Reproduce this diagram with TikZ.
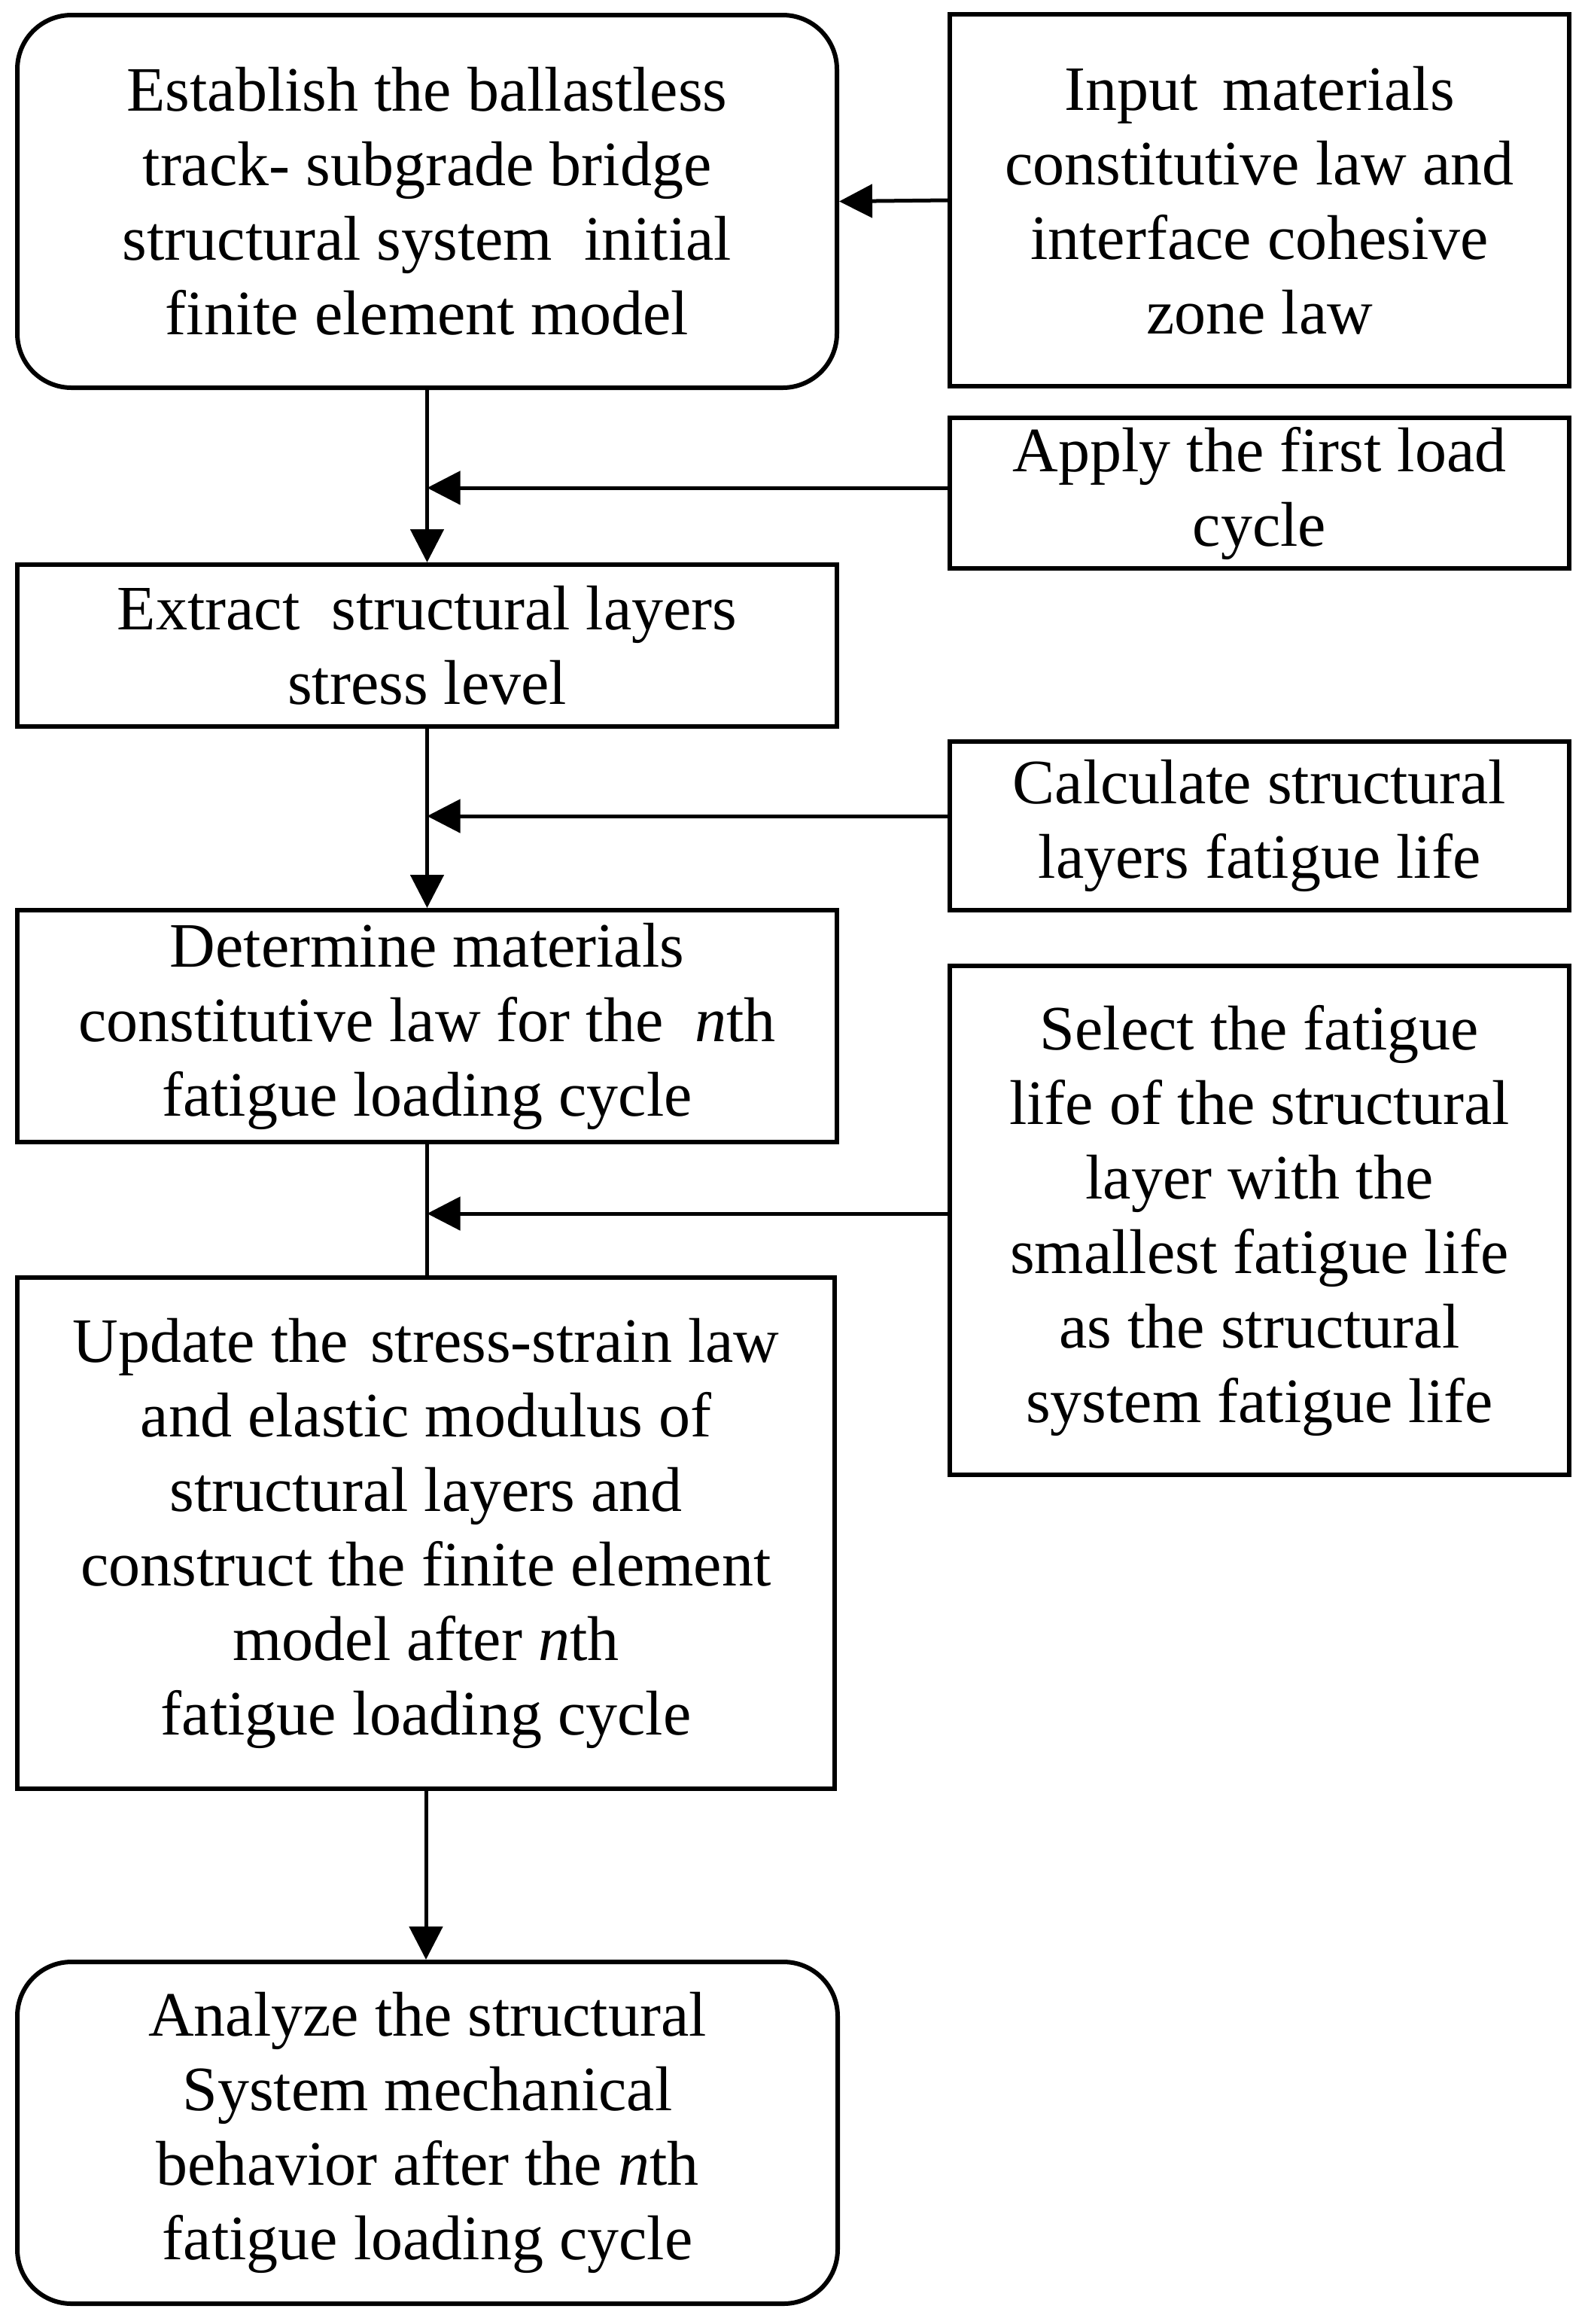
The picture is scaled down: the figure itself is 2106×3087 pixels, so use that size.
\documentclass[tikz,border=0pt]{standalone}
\usepackage{fontspec}
\setmainfont{Liberation Serif}
\usetikzlibrary{arrows.meta}
\begin{document}
\begin{tikzpicture}[x=0.25pt,y=-0.25pt,
  box/.style={draw, line width=1.5pt, align=center, inner sep=0pt,
    font=\fontsize{21}{24.75}\selectfont},
  rbox/.style={box, rounded corners=18pt},
  conn/.style={line width=1.25pt},
  arr/.style={conn, -{Triangle[length=11pt,width=11pt]}}]
\useasboundingbox (0,0) rectangle (2106,3087);
\node[rbox, minimum width=272.25pt, minimum height=123.75pt] (n1) at (567.5,267.5)
  {Establish the ballastless\\track- subgrade bridge\\structural system \ initial\\finite element model};
\node[box, minimum width=205.75pt, minimum height=123.5pt] (n2) at (1673.5,266)
  {Input\hspace{0.4em}materials\\constitutive law and\\interface cohesive\\zone law};
\node[box, minimum width=205.75pt, minimum height=50pt] (n3) at (1673.5,655)
  {Apply the first load\\cycle};
\node[box, minimum width=272.25pt, minimum height=53.75pt] (n4) at (567.5,857.5)
  {Extract \ structural layers\\stress level};
\node[box, minimum width=205.75pt, minimum height=56pt] (n5) at (1673.5,1097)
  {Calculate structural\\layers fatigue life};
\node[box, minimum width=272.25pt, minimum height=77pt] (n6) at (567.5,1363)
  {Determine materials\\constitutive law for the \ \textit{n}th\\fatigue loading cycle};
\node[box, minimum width=205.75pt, minimum height=169pt] (n7) at (1673.5,1621)
  {Select the fatigue\\life of the structural\\layer with the\\smallest fatigue life\\as the structural\\system fatigue life};
\node[box, minimum width=271.5pt, minimum height=169.75pt] (n8) at (566,2036.5)
  {Update the\hspace{0.35em}stress-strain law\\and elastic modulus of\\structural layers and\\construct the finite element\\model after \textit{n}th\\fatigue loading cycle};
\node[rbox, minimum width=272.5pt, minimum height=113.5pt] (n9) at (568,2833)
  {Analyze the structural\\System mechanical\\behavior after the \textit{n}th\\fatigue loading cycle};
\draw[arr] (n2.west) -- (n1.east);
\draw[arr] (n1.south) -- (n4.north);
\draw[arr] ([yshift=1.75pt]n3.west) -- ([yshift=1.75pt]n3.west -| n1.south);
\draw[arr] (n4.south) -- (n6.north);
\draw[arr] ([yshift=3.25pt]n5.west) -- ([yshift=3.25pt]n5.west -| n4.south);
\draw[conn] (n6.south) -- (n6.south |- n8.north);
\draw[arr] ([yshift=2.25pt]n7.west) -- ([yshift=2.25pt]n7.west -| n6.south);
\draw[arr] (n8.south) -- (n8.south |- n9.north);
\end{tikzpicture}
\end{document}
